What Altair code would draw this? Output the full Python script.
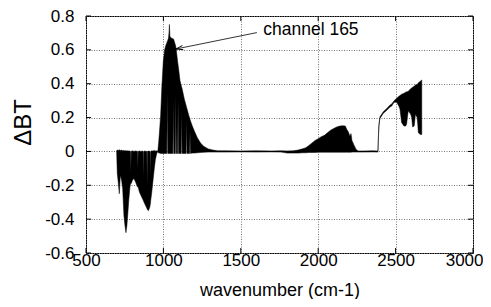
import altair as alt
import pandas as pd

# ---- spectrum: wavenumber, lower and upper envelope of dBT ----
# negative band (CO2 / 15 um)
wn_a = [698, 702, 708, 715, 722, 730, 737, 745, 752, 758,
        764, 770, 777, 784, 788, 790, 792, 800, 810, 820,
        833, 835, 837, 845, 855, 865, 868, 870, 872, 880,
        890, 893, 895, 897, 903, 912, 914, 916, 918, 925,
        932, 940, 948, 955, 962]
low_a = [0, -0.13, -0.18, -0.25, -0.14, -0.17, -0.22, -0.38, -0.44, -0.48,
         -0.44, -0.37, -0.28, -0.21, -0.19, -0.19, -0.19, -0.17, -0.16, -0.18,
         -0.21, -0.21, -0.21, -0.24, -0.26, -0.28, -0.285, -0.29, -0.295, -0.31,
         -0.33, -0.335, -0.34, -0.345, -0.35, -0.33, -0.32, -0.31, -0.29, -0.24,
         -0.18, -0.11, -0.05, -0.02, 0]
high_a = [0.005, 0.008, 0.005, 0.01, 0.005, 0.008, 0.004, 0.006, 0.003, 0.005,
          0.002, 0.004, 0.002, 0.003, 0.0, -0.12, 0.0, 0.004, 0.0, 0.003,
          0.0, -0.1, 0.0, 0.003, 0.0, 0.002, 0.0, -0.15, 0.0, 0.002,
          0.0, 0.0, -0.2, 0.0, 0.002, 0.0, 0.0, -0.15, 0.0, 0.004,
          0.002, 0.005, 0.003, 0.004, 0.0]

# ozone peak
wn_b = [965, 970, 975, 982, 990, 999, 1008, 1017, 1022, 1025,
        1028, 1033, 1036, 1039, 1042, 1050, 1061, 1064, 1067, 1077,
        1080, 1083, 1092, 1095, 1098, 1107, 1115, 1118, 1121, 1135,
        1147, 1150, 1153, 1165, 1169, 1172, 1175, 1185, 1200, 1220,
        1240, 1260, 1290, 1320, 1350]
low_b = [-0.005, -0.01, -0.01, -0.012, -0.012, -0.012, -0.012, -0.012, -0.012, 0.35,
         -0.012, -0.012, -0.012, -0.012, -0.012, -0.012, -0.012, 0.3, -0.012, -0.012,
         0.33, -0.012, -0.012, 0.3, -0.012, -0.012, -0.012, 0.24, -0.012, -0.012,
         -0.012, 0.19, -0.012, -0.012, -0.012, 0.12, -0.012, -0.01, -0.01, -0.008,
         -0.006, -0.005, -0.004, -0.004, -0.004]
high_b = [0.01, 0.06, 0.12, 0.21, 0.38, 0.53, 0.6, 0.63, 0.64, 0.65,
          0.655, 0.67, 0.7, 0.75, 0.68, 0.67, 0.665, 0.665, 0.66, 0.63,
          0.62, 0.6, 0.53, 0.51, 0.49, 0.42, 0.39, 0.38, 0.37, 0.31,
          0.27, 0.26, 0.25, 0.21, 0.2, 0.19, 0.18, 0.155, 0.12, 0.08,
          0.05, 0.03, 0.015, 0.008, 0.004]

# flat part and 2000 cm-1 band
wn_c = [1400, 1500, 1600, 1700, 1760, 1800, 1840, 1870, 1900, 1920,
        1940, 1960, 1980, 2000, 2020, 2040, 2060, 2080, 2100, 2120,
        2140, 2160, 2175, 2185, 2195, 2205, 2212, 2218, 2230, 2245,
        2258]
low_c = [-0.004, -0.003, -0.004, -0.003, -0.004, -0.01, -0.01, -0.01, -0.008, -0.008,
         -0.006, -0.006, -0.006, -0.005, -0.005, -0.005, -0.005, -0.005, -0.005, -0.005,
         -0.005, -0.005, -0.005, -0.005, -0.005, -0.005, -0.005, -0.004, -0.004, -0.004,
         -0.004]
high_c = [0.004, 0.003, 0.004, 0.003, 0.004, 0.003, 0.004, 0.008, 0.016, 0.022,
          0.035, 0.05, 0.065, 0.075, 0.087, 0.095, 0.11, 0.125, 0.135, 0.145,
          0.15, 0.152, 0.15, 0.13, 0.115, 0.09, 0.105, 0.065, 0.04, 0.012,
          0.003]

# shortwave band
wn_d = [2300, 2350, 2386, 2390, 2393, 2399, 2421, 2445, 2464, 2475,
        2490, 2507, 2520, 2528, 2535, 2539, 2554, 2565, 2571, 2576,
        2582, 2597, 2604, 2610, 2620, 2625, 2628, 2639, 2643, 2647,
        2660, 2669]
low_d = [-0.004, -0.003, -0.004, 0.1, 0.155, 0.195, 0.225, 0.245, 0.262, 0.268,
         0.29, 0.29, 0.27, 0.25, 0.2, 0.17, 0.15, 0.15, 0.16, 0.2,
         0.24, 0.22, 0.2, 0.145, 0.15, 0.19, 0.22, 0.2, 0.16, 0.11,
         0.1, 0.1]
high_d = [0.003, 0.004, 0.003, 0.12, 0.166, 0.205, 0.235, 0.255, 0.274, 0.28,
          0.3, 0.314, 0.325, 0.33, 0.335, 0.338, 0.343, 0.35, 0.352, 0.353,
          0.355, 0.37, 0.375, 0.379, 0.385, 0.39, 0.392, 0.395, 0.4, 0.405,
          0.415, 0.422]

wavenumber = wn_a + wn_b + wn_c + wn_d
dbt_low = low_a + low_b + low_c + low_d
dbt_high = high_a + high_b + high_c + high_d
assert len(wavenumber) == len(dbt_low) == len(dbt_high)

x_ticks = [500, 1000, 1500, 2000, 2500, 3000]
y_ticks = [-0.6, -0.4, -0.2, 0, 0.2, 0.4, 0.6, 0.8]

annot_text = "channel 165"
annot_text_pos = [1645, 0.688]
arrow_x = [1604, 1081]
arrow_y = [0.702, 0.605]

W, H = 387, 237
FONT = "Liberation Sans"

spec_df = pd.DataFrame({"wn": wavenumber, "dbt": dbt_low, "high": dbt_high})
xt_df = pd.DataFrame({"wn": x_ticks})
yt_df = pd.DataFrame({"dbt": y_ticks})
arrow_df = pd.DataFrame({"wn": arrow_x, "dbt": arrow_y})
tip_df = pd.DataFrame({"wn": arrow_x[1:], "dbt": arrow_y[1:]})
text_df = pd.DataFrame({"wn": [annot_text_pos[0]], "dbt": [annot_text_pos[1]], "t": [annot_text]})

xscale = alt.Scale(domain=[500, 3000], nice=False, zero=False)
yscale = alt.Scale(domain=[-0.6, 0.8], nice=False, zero=False)

last_x = "datum.value == 3000"
x_axis = alt.Axis(
    values=x_ticks, format="d", title="wavenumber (cm-1)",
    grid=True, gridColor="#777777", gridDash=[1, 1.5], gridWidth=1,
    domain=False, ticks=False, tickSize=0,
    labelFont=FONT, labelColor="black", labelFontSize=17,
    labelPadding=12, labelBaseline="alphabetic",
    labelAlign={"condition": {"test": last_x, "value": "right"}, "value": "center"},
    labelOffset={"condition": {"test": last_x, "value": 10}, "value": 0},
    titleFont=FONT, titleColor="black", titleFontWeight="normal", titleFontSize=18,
    titleY=42, titleBaseline="alphabetic")
y_axis = alt.Axis(
    values=y_ticks, title="ΔBT",
    labelExpr="abs(datum.value) < 1e-9 ? '0' : (datum.value < 0 ? '-' + format(-datum.value, '.1f') : format(datum.value, '.1f'))",
    grid=True, gridColor="#777777", gridDash=[1, 1.5], gridWidth=1,
    domain=False, ticks=False, tickSize=0,
    labelFont=FONT, labelColor="black", labelFontSize=17, labelPadding=12,
    titleFont=FONT, titleColor="black", titleFontWeight="normal", titleFontSize=24,
    titleX=-63, titleY=106, titleAngle=270, titleAlign="center", titleBaseline="middle")

X = alt.X("wn:Q", scale=xscale, axis=x_axis)
Y = alt.Y("dbt:Q", scale=yscale, axis=y_axis)

spectrum = alt.Chart(spec_df).mark_area(
    color="black", stroke="black", strokeWidth=0.5, interpolate="linear"
).encode(x=X, y=Y, y2="high:Q")

tick_len = 5
bottom_ticks = alt.Chart(xt_df).mark_rule(color="black", strokeWidth=1).encode(
    x=X, y=alt.value(H - tick_len), y2=alt.value(H))
top_ticks = alt.Chart(xt_df).mark_rule(color="black", strokeWidth=1).encode(
    x=X, y=alt.value(0), y2=alt.value(tick_len))
left_ticks = alt.Chart(yt_df).mark_rule(color="black", strokeWidth=1).encode(
    y=Y, x=alt.value(0), x2=alt.value(tick_len))
right_ticks = alt.Chart(yt_df).mark_rule(color="black", strokeWidth=1).encode(
    y=Y, x=alt.value(W - tick_len), x2=alt.value(W))

arrow = alt.Chart(arrow_df).mark_line(color="black", strokeWidth=0.8).encode(x=X, y=Y)
tip = alt.Chart(tip_df).mark_point(
    shape="M0,0L2,-0.6M0,0L2,0.6", size=50, filled=False, stroke="black",
    strokeWidth=0.9, angle=348.5, opacity=1
).encode(x=X, y=Y)
label = alt.Chart(text_df).mark_text(
    align="left", baseline="alphabetic", font=FONT, fontSize=17.5, color="black"
).encode(x=X, y=Y, text="t:N")

chart = alt.layer(
    spectrum, bottom_ticks, top_ticks, left_ticks, right_ticks, arrow, tip, label
).properties(
    width=W, height=H,
    background="white",
    autosize=alt.AutoSizeParams(type="none"),
    padding={"left": 78, "top": 8, "right": 10, "bottom": 46},
).configure_view(
    stroke="black", strokeWidth=1
)

chart.save("out.html", embed_options={"renderer": "svg", "actions": False})
